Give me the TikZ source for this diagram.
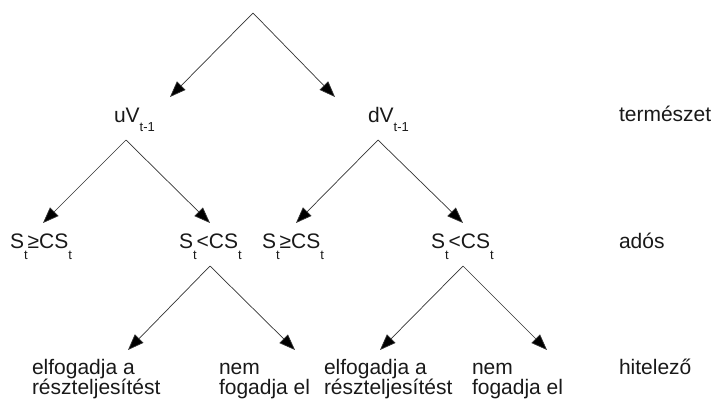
\documentclass[tikz,border=0pt]{standalone}
\usepackage{fontspec}
\setmainfont{Liberation Sans}
\usetikzlibrary{arrows.meta}
\newcommand\lowsub[2]{\raisebox{-#1pt}{\fontsize{13}{13}\selectfont #2}}
\begin{document}
\begin{tikzpicture}[x=1pt,y=-1pt,
  lbl/.style={anchor=base west,inner sep=0pt,outer sep=0pt,text=black!90,font=\fontsize{21}{20}\selectfont},
  multi/.style={lbl,align=left},
  edge/.style={draw=black!80,line width=0.7pt,-{Triangle[length=16pt,width=12pt,fill=black]}}]
\useasboundingbox (0,0) rectangle (713,401);
% level labels
\node[lbl] (uV) at (114,123) {uV\lowsub{9}{t-1}};
\node[lbl] (dV) at (368,123) {dV\lowsub{9}{t-1}};
\node[lbl] (term) at (619,122) {természet};
\node[lbl] (s1) at (10,248) {S\lowsub{11}{t}≥CS\lowsub{11}{t}};
\node[lbl] (s2) at (179,248) {S\lowsub{11}{t}<CS\lowsub{11}{t}};
\node[lbl] (s3) at (262,248) {S\lowsub{11}{t}≥CS\lowsub{11}{t}};
\node[lbl] (s4) at (431,248) {S\lowsub{11}{t}<CS\lowsub{11}{t}};
\node[lbl] (ados) at (619,248) {adós};
\node[multi] (a1) at (32,394) {elfogadja a\\részteljesítést};
\node[multi] (n1) at (219,394) {nem\\fogadja el};
\node[multi] (a2) at (324,394) {elfogadja a\\részteljesítést};
\node[multi] (n2) at (472,394) {nem\\fogadja el};
\node[lbl] (hit) at (619,374) {hitelező};
% connector points
\coordinate (root) at (253,13);
\coordinate (uVin) at (170,97);
\coordinate (dVin) at (335,97);
\coordinate (uVout) at (126,140);
\coordinate (dVout) at (378,140);
\coordinate (s1in) at (43,223);
\coordinate (s2in) at (210,223);
\coordinate (s3in) at (296,223);
\coordinate (s4in) at (463,223);
\coordinate (s2out) at (210,266);
\coordinate (s4out) at (463,266);
\coordinate (a1in) at (128,350);
\coordinate (n1in) at (295,350);
\coordinate (a2in) at (380,350);
\coordinate (n2in) at (547,350);
% connectors
\draw[edge] (root) -- (uVin);
\draw[edge] (root) -- (dVin);
\draw[edge] (uVout) -- (s1in);
\draw[edge] (uVout) -- (s2in);
\draw[edge] (dVout) -- (s3in);
\draw[edge] (dVout) -- (s4in);
\draw[edge] (s2out) -- (a1in);
\draw[edge] (s2out) -- (n1in);
\draw[edge] (s4out) -- (a2in);
\draw[edge] (s4out) -- (n2in);
\end{tikzpicture}
\end{document}
